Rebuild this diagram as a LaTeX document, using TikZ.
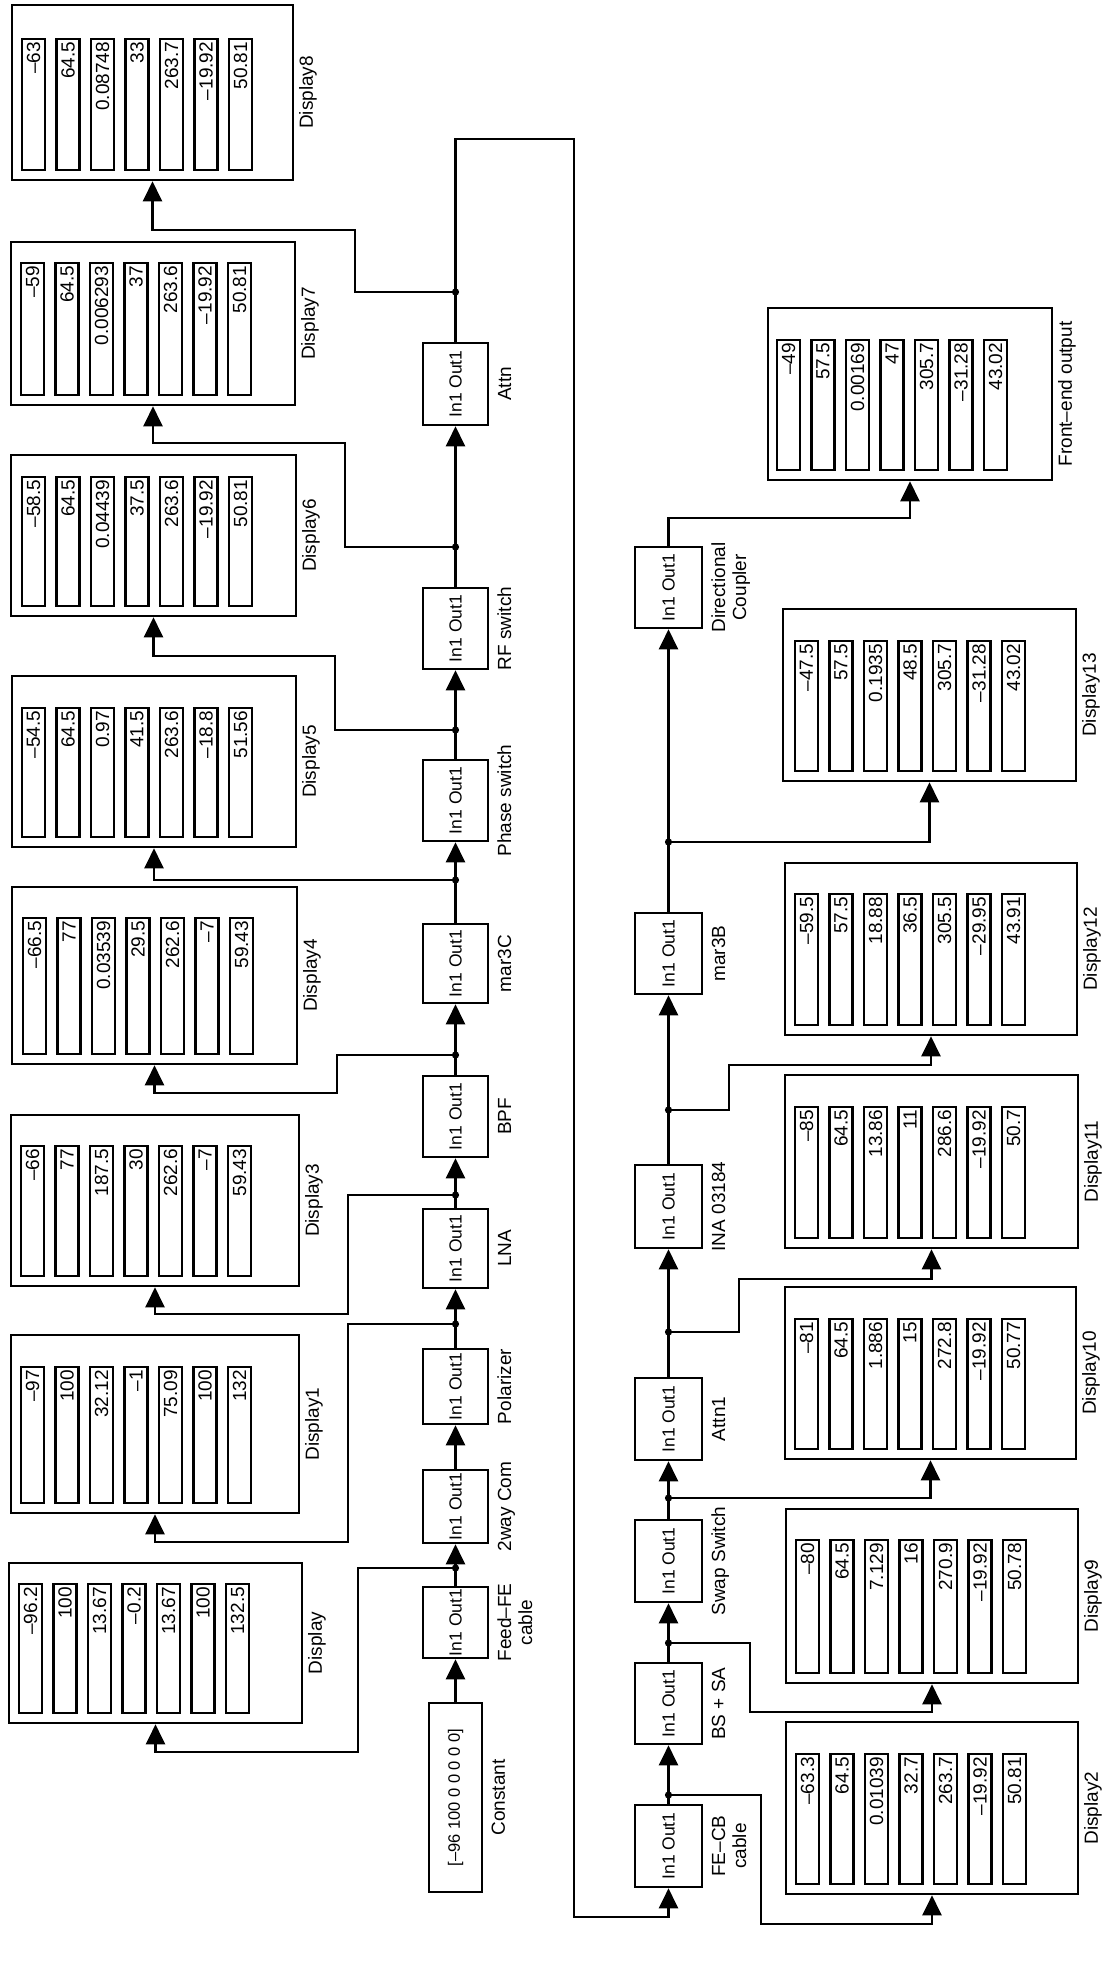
\documentclass[tikz,border=0pt]{standalone}
\usepackage{fontspec}
\setmainfont{Liberation Sans}
\usetikzlibrary{arrows.meta,fit,calc}
\newcommand{\dispblock}[9]{%
  \node[dbox, fit={(#2,#3) (#4,#5)}] (#1) {};
  \foreach \v [count=\i from 0] in {#9} {
    \pgfmathsetmacro{\fxa}{#7+\i*34.5}
    \node[dfield, fit={(\fxa,#6) (\fxa+23,#5-10)}] (#1f\i) {};
    \node[dnum, anchor=north] (#1n\i) at ([yshift=-4pt]#1f\i.north) {\rotatebox{90}{\v}};
  }
  \node[dlbl] (#1l) at ({#4+15},{(#3+#5)/2}) {\rotatebox{90}{#8}};
}
\newcommand{\chainblk}[6]{%
  \node[blk, minimum width=#5pt, minimum height={(#4-#3)*1pt}] (#1) at (#2,{(#3+#4)/2}) {\rotatebox{90}{In1 Out1}};
  \node[dlbl, anchor=west] (#1l) at ([xshift=7pt]#1.east) {\rotatebox{90}{\begin{tabular}{@{}c@{}}#6\end{tabular}}};
}
\begin{document}
\begin{tikzpicture}[x=1pt,y=-1pt,
  conn/.style={line width=2.4pt},
  arr/.style={conn,-{Triangle[length=20pt,width=19pt]}},
  dbox/.style={draw,line width=2.6pt,inner sep=0pt},
  dfield/.style={draw,line width=2.4pt,inner sep=0pt},
  dnum/.style={inner sep=0pt,font=\fontsize{19}{21}\selectfont},
  dlbl/.style={inner sep=0pt,font=\fontsize{19}{21}\selectfont},
  blk/.style={draw,line width=2.6pt,inner sep=0pt,font=\fontsize{17.5}{20}\selectfont}
]
\useasboundingbox (0,0) rectangle (1109,1970);
\fill[white] (0,0) rectangle (1109,1970);

% ---------- upper displays
\dispblock{d8}{12}{5}{293}{180}{39}{22}{Display8}{–63,64.5,0.08748,33,263.7,–19.92,50.81}
\dispblock{d7}{11}{242}{295}{405}{263}{21}{Display7}{–59,64.5,0.006293,37,263.6,–19.92,50.81}
\dispblock{d6}{11}{455}{296}{616}{477}{22}{Display6}{–58.5,64.5,0.04439,37.5,263.6,–19.92,50.81}
\dispblock{d5}{12}{676}{296}{847}{708}{22}{Display5}{–54.5,64.5,0.97,41.5,263.6,–18.8,51.56}
\dispblock{d4}{12}{887}{297}{1064}{918}{23}{Display4}{–66.5,77,0.03539,29.5,262.6,–7,59.43}
\dispblock{d3}{11}{1115}{299}{1286}{1146}{21}{Display3}{–66,77,187.5,30,262.6,–7,59.43}
\dispblock{d1}{11}{1335}{299}{1513}{1367}{21}{Display1}{–97,100,32.12,–1,75.09,100,132}
\dispblock{d0}{9}{1563}{302}{1723}{1584}{19}{Display}{–96.2,100,13.67,–0.2,13.67,100,132.5}

% ---------- lower displays
\dispblock{feo}{768}{308}{1052}{480}{340}{777}{Front–end output}{–49,57.5,0.00169,47,305.7,–31.28,43.02}
\dispblock{d13}{783}{609}{1076}{781}{641}{795}{Display13}{–47.5,57.5,0.1935,48.5,305.7,–31.28,43.02}
\dispblock{d12}{785}{863}{1077}{1035}{894}{795}{Display12}{–59.5,57.5,18.88,36.5,305.5,–29.95,43.91}
\dispblock{d11}{785}{1075}{1078}{1248}{1107}{795}{Display11}{–85,64.5,13.86,11,286.6,–19.92,50.7}
\dispblock{d10}{785}{1287}{1076}{1459}{1319}{795}{Display10}{–81,64.5,1.886,15,272.8,–19.92,50.77}
\dispblock{d9}{786}{1509}{1078}{1683}{1540}{796}{Display9}{–80,64.5,7.129,16,270.9,–19.92,50.78}
\dispblock{d2}{786}{1722}{1078}{1894}{1754}{796}{Display2}{–63.3,64.5,0.01039,32.7,263.7,–19.92,50.81}

% ---------- upper chain
\chainblk{attn}{455.5}{343}{425}{65}{Attn}
\chainblk{rf}{455.5}{588}{669}{65}{RF switch}
\chainblk{phase}{455.5}{760}{841}{65}{Phase switch}
\chainblk{mthreec}{455.5}{924}{1003}{65}{mar3C}
\chainblk{bpf}{455.5}{1076}{1157}{65}{BPF}
\chainblk{lna}{455.5}{1209}{1288}{65}{LNA}
\chainblk{pol}{455.5}{1349}{1424}{65}{Polarizer}
\chainblk{twoway}{455.5}{1470}{1543}{65}{2way Com}
\chainblk{feed}{455.5}{1587}{1658}{65}{Feed–FE\\cable}
\node[blk, minimum width=53pt, minimum height=189pt, font=\fontsize{16.5}{19}\selectfont] (const) at (455.5,1797.5) {\rotatebox{90}{[–96 100 0 0 0 0 0]}};
\node[dlbl, anchor=west] (constl) at ([xshift=8pt]const.east) {\rotatebox{90}{Constant}};

% ---------- lower chain
\chainblk{dc}{668.5}{547}{628}{67}{Directional\\Coupler}
\chainblk{mthreeb}{668.5}{913}{994}{67}{mar3B}
\chainblk{ina}{668.5}{1165}{1248}{67}{INA 03184}
\chainblk{attnone}{668.5}{1378}{1460}{67}{Attn1}
\chainblk{swap}{668.5}{1520}{1602}{67}{Swap Switch}
\chainblk{bssa}{668.5}{1663}{1744}{67}{BS + SA}
\chainblk{fecb}{668.5}{1805}{1887}{67}{FE–CB\\cable}

% ---------- chain connectors
\draw[arr] (const.north) -- (feed.south);
\draw[arr] (feed.north) -- (twoway.south);
\draw[arr] (twoway.north) -- (pol.south);
\draw[arr] (pol.north) -- (lna.south);
\draw[arr] (lna.north) -- (bpf.south);
\draw[arr] (bpf.north) -- (mthreec.south);
\draw[arr] (mthreec.north) -- (phase.south);
\draw[arr] (phase.north) -- (rf.south);
\draw[arr] (rf.north) -- (attn.south);
\draw[arr] (attn.north) -- (455.5,139) -| (574,1917) -| (fecb.south);

\draw[arr] (fecb.north) -- (bssa.south);
\draw[arr] (bssa.north) -- (swap.south);
\draw[arr] (swap.north) -- (attnone.south);
\draw[arr] (attnone.north) -- (ina.south);
\draw[arr] (ina.north) -- (mthreeb.south);
\draw[arr] (mthreeb.north) -- (dc.south);
\draw[arr] (dc.north) -- ++(0,-28) -| (feo.south);

% ---------- branch points
\coordinate (jAttn) at (455.5,292);
\coordinate (jRF) at (455.5,547);
\coordinate (jPh) at (455.5,730);
\coordinate (jMC) at (455.5,880);
\coordinate (jBPF) at (455.5,1055);
\coordinate (jLNA) at (455.5,1195);
\coordinate (jPol) at (455.5,1324);
\coordinate (jFeed) at (455.5,1568);
\coordinate (jFECB) at (668.5,1795);
\coordinate (jBS) at (668.5,1643);
\coordinate (jSw) at (668.5,1498);
\coordinate (jAtt) at (668.5,1332);
\coordinate (jINA) at (668.5,1110);
\coordinate (jMB) at (668.5,842);

\draw[arr] (jAttn) -| (355,230) -| (d8.south);
\draw[arr] (jRF) -| (345,443) -| (d7.south);
\draw[arr] (jPh) -| (335,656) -| (d6.south);
\draw[arr] (jMC) -| (d5.south);
\draw[arr] (jBPF) -| (337,1093) -| (d4.south);
\draw[arr] (jLNA) -| (348,1314) -| (d3.south);
\draw[arr] (jPol) -| (348,1542) -| (d1.south);
\draw[arr] (jFeed) -| (358,1752) -| (d0.south);

\draw[arr] (jFECB) -| (761,1924) -| (d2.south);
\draw[arr] (jBS) -| (750,1712) -| (d9.south);
\draw[arr] (jSw) -| (d10.south);
\draw[arr] (jAtt) -| (739,1279) -| (d11.south);
\draw[arr] (jINA) -| (729,1065) -| (d12.south);
\draw[arr] (jMB) -| (d13.south);

\foreach \j in {jAttn,jRF,jPh,jMC,jBPF,jLNA,jPol,jFeed,jFECB,jBS,jSw,jAtt,jINA,jMB}
  \fill (\j) circle (3.6pt);
\end{tikzpicture}
\end{document}
